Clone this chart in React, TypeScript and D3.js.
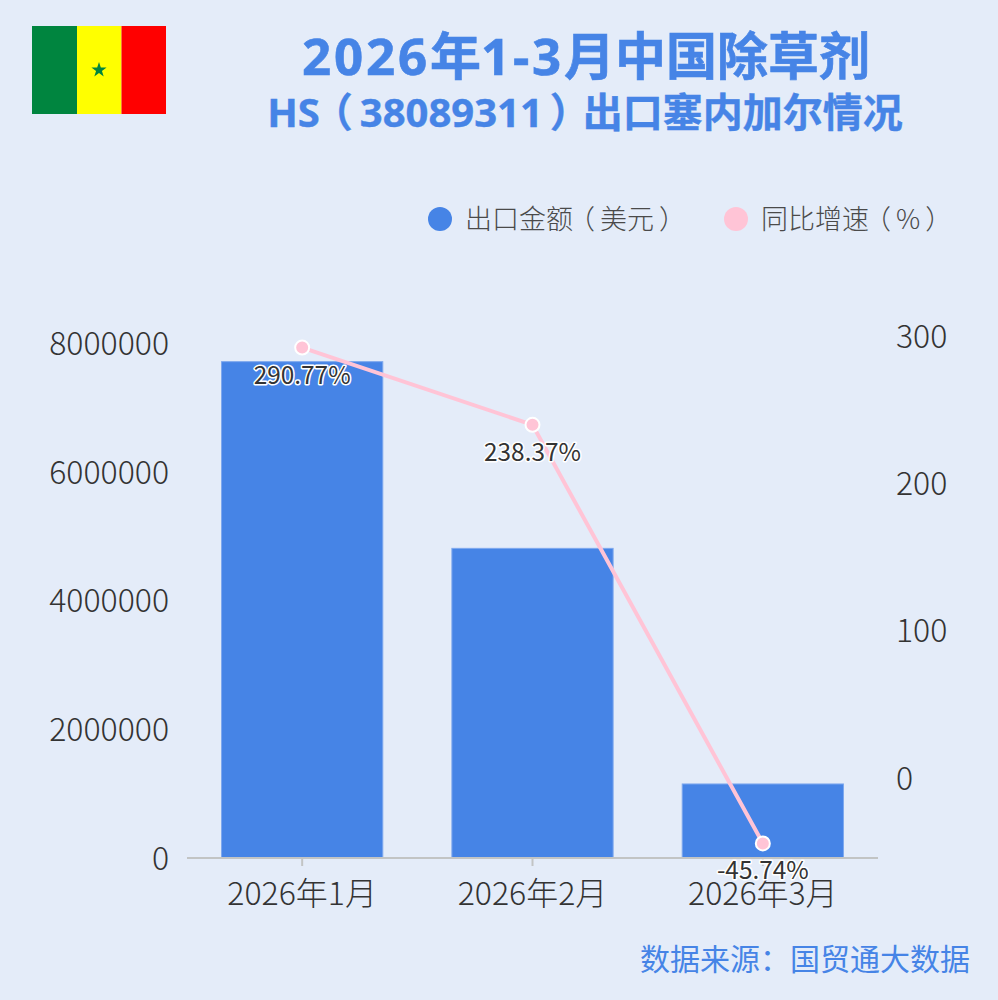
import React from "react";
import * as d3 from "d3";

const categories = ["2026年1月", "2026年2月", "2026年3月"];
const exportValues = [7710000, 4810000, 1150000];
const growthValues = [290.77, 238.37, -45.74];
const leftTicks = [0, 2000000, 4000000, 6000000, 8000000];
const rightTicks = [0, 100, 200, 300];
const titleLine1 = "2026年1-3月中国除草剂";
const titleLine2 = "HS（38089311）出口塞内加尔情况";
const legendLabels = ["出口金额（美元）", "同比增速（%）"];
const sourceText = "数据来源：国贸通大数据";

const BLUE = "#4684E6";
const PINK = "#FFC4D6";
const BG = "#E4ECF9";
const AXIS = "#C2C4C4";
const FONT = '"Noto Sans CJK SC", "Noto Sans", sans-serif';
const TITLE_FONT = '"Noto Sans", "Noto Sans CJK SC", sans-serif';

const x = d3.scaleBand<string>().domain(categories).range([187, 878]).paddingInner(0.3).paddingOuter(0.15);
const yL = d3.scaleLinear().domain([0, 8000000]).range([858, 343]);
const yR = d3.scaleLinear().domain([0, 300]).range([776, 334]);

const starPath = (() => {
  const pts: [number, number][] = [];
  for (let i = 0; i < 10; i++) {
    const r = i % 2 === 0 ? 8 : 3.1;
    const a = -Math.PI / 2 + (i * Math.PI) / 5;
    pts.push([r * Math.cos(a), r * Math.sin(a)]);
  }
  return d3.line()(pts) + "Z";
})();

// Splits a string into runs: Latin runs may get extra spacing, and the fullwidth
// parens are nudged so that they sit centred in their cells.
function runs(s: string, latinSpacing: number, k: number) {
  const parts = s.match(/[（）]|[\x00-\x7f]+|[^（）\x00-\x7f]+/g) || [];
  let carry = 0;
  return parts.map((p, i) => {
    let dx = carry;
    carry = 0;
    if (p === "（") {
      dx -= k;
      carry = k;
    } else if (p === "）") {
      dx += k;
      carry = -k;
    }
    const ls = /^[\x00-\x7f]+$/.test(p) ? latinSpacing : 0;
    return (
      <tspan key={i} dx={dx || undefined} style={{ letterSpacing: ls }}>{p}</tspan>
    );
  });
}

export default function App() {
  const line = d3
    .line<number>()
    .x((_, i) => (x(categories[i]) as number) + x.bandwidth() / 2)
    .y((d) => yR(d));
  return (
    <svg
      width={998}
      height={1000}
      style={{ position: "absolute", left: 0, top: 0, display: "block", background: BG, fontFamily: FONT }}
    >
      <rect width={998} height={1000} fill={BG} />
      <g>
        <rect x={32} y={26} width={45} height={88} fill="#00853F" />
        <rect x={77} y={26} width={44.5} height={88} fill="#FFFF00" />
        <rect x={121.5} y={26} width={44.5} height={88} fill="#FF0000" />
        <path d={starPath} transform="translate(99,70)" fill="#00853F" />
      </g>
      <text x={586} y={75} textAnchor="middle" fontFamily={TITLE_FONT} fontSize={51} fontWeight={700} fill={BLUE} stroke={BLUE} strokeWidth={0.6}>{runs(titleLine1, 2.8, 0)}</text>
      <text x={585} y={127} textAnchor="middle" fontFamily={TITLE_FONT} fontSize={40} fontWeight={700} fill={BLUE} stroke={BLUE} strokeWidth={0.4}>{runs(titleLine2, 0, 7)}</text>

      <circle cx={440} cy={219} r={12} fill={BLUE} />
      <text x={465} y={229} fontSize={27} fontWeight={300} fill="#4a4a4a">{runs(legendLabels[0], 0, 5)}</text>
      <circle cx={736} cy={219} r={12} fill={PINK} />
      <text x={761} y={229} fontSize={27} fontWeight={300} fill="#4a4a4a">{runs(legendLabels[1], 0, 5)}</text>

      {leftTicks.map((t) => (
        <text key={t} x={169} y={yL(t)} dy="0.37em" textAnchor="end" fontSize={32} fontWeight={200} fill="#333">{t}</text>
      ))}
      {rightTicks.map((t) => (
        <text key={t} x={896} y={yR(t)} dy="0.43em" fontSize={32} fontWeight={200} fill="#333">{t}</text>
      ))}

      {categories.map((c, i) => (
        <rect key={c} x={x(c)} y={yL(exportValues[i])} width={x.bandwidth()} height={858 - yL(exportValues[i])}
          fill={BLUE} stroke="#7DA8EE" strokeWidth={1} />
      ))}

      <line x1={187} x2={878} y1={858} y2={858} stroke={AXIS} strokeWidth={2} />
      {categories.map((c) => (
        <line key={c} x1={(x(c) as number) + x.bandwidth() / 2} x2={(x(c) as number) + x.bandwidth() / 2} y1={858} y2={866} stroke={AXIS} strokeWidth={2} />
      ))}
      {categories.map((c) => (
        <text key={c} x={(x(c) as number) + x.bandwidth() / 2} y={905} textAnchor="middle" fontSize={32} fontWeight={200} fill="#333">{c}</text>
      ))}

      <path d={line(growthValues) as string} fill="none" stroke={PINK} strokeWidth={4} />
      {growthValues.map((v, i) => {
        const cx = (x(categories[i]) as number) + x.bandwidth() / 2;
        return <circle key={i} cx={cx} cy={yR(v)} r={7} fill={PINK} stroke="#fff" strokeWidth={2} />;
      })}
      {growthValues.map((v, i) => {
        const cx = (x(categories[i]) as number) + x.bandwidth() / 2;
        return (
          <text key={i} x={cx} y={yR(v) + 36} textAnchor="middle" fontSize={24.4} fontWeight={400} fill="#333"
            stroke="#fff" strokeWidth={3} paintOrder="stroke" strokeLinejoin="round">{v.toFixed(2)}%</text>
        );
      })}

      <text x={970} y={970} textAnchor="end" fontSize={30} fontWeight={400} fill={BLUE}>{sourceText}</text>
    </svg>
  );
}
